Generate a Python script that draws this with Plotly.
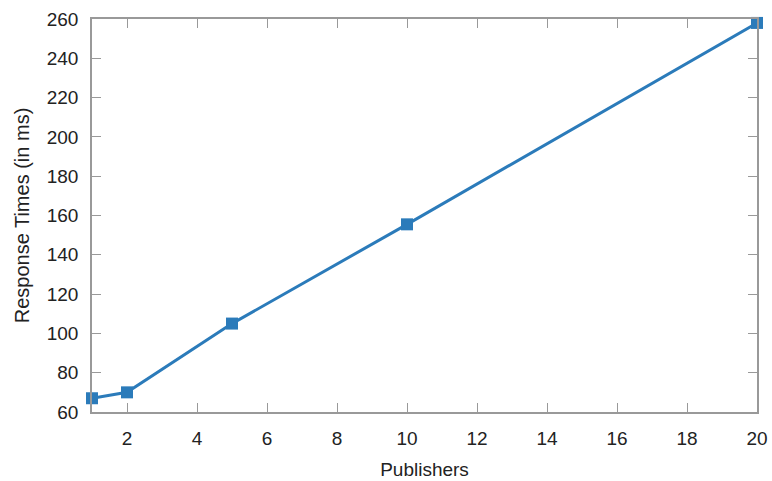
import plotly.graph_objects as go

publishers = [1, 2, 5, 10, 20]
response_ms = [67, 70, 105, 155.5, 258]
x_ticks = [2, 4, 6, 8, 10, 12, 14, 16, 18, 20]
y_ticks = [60, 80, 100, 120, 140, 160, 180, 200, 220, 240, 260]

color = "#2b7bba"
font_family = "Liberation Sans, Arial, sans-serif"
fig = go.Figure(go.Scatter(
    x=publishers, y=response_ms, mode="lines+markers",
    line=dict(color=color, width=3),
    marker=dict(symbol="square", size=12, color=color),
    cliponaxis=False,
))

axis_common = dict(
    showgrid=False, zeroline=False, showline=True, linecolor="#999999", linewidth=1.5,
    mirror="allticks", ticks="inside", ticklen=9, tickwidth=1.2, tickcolor="#999999",
    tickfont=dict(family=font_family, size=19, color="#222"), automargin=False,
)

fig.update_xaxes(range=[1, 20], tickvals=x_ticks,
                 title=dict(text="Publishers", standoff=15,
                            font=dict(family=font_family, size=19, color="#222")),
                 ticklabelstandoff=8, **axis_common)
fig.update_yaxes(range=[60, 260], tickvals=y_ticks,
                 title=dict(text="Response Times (in ms)", standoff=12,
                            font=dict(family=font_family, size=20, color="#222")),
                 ticklabelstandoff=8, **axis_common)

fig.update_layout(
    width=772, height=481, margin=dict(l=92, r=15, t=19, b=69),
    plot_bgcolor="white", paper_bgcolor="white", showlegend=False,
)
fig.write_html("out.html")
